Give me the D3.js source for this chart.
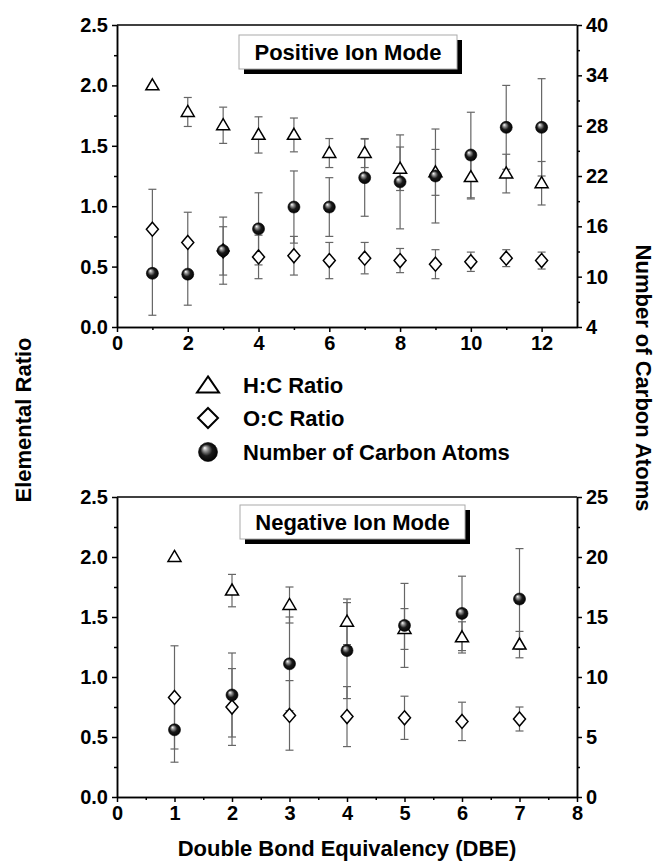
<!DOCTYPE html>
<html lang="en">

<head>
    <meta charset="UTF-8">
    <script src="https://d3js.org/d3.v7.min.js"></script>
    <title>Elemental ratio vs DBE</title>
    <style>
        body { margin: 0; background: #fff; }
        text { font-family: "Liberation Sans", Arial, sans-serif; font-weight: bold; fill: #000; }
    </style>
</head>

<body>
    <svg id="mainsvg" width="660" height="868"></svg>

    <script>
        // ---- data ----
        const dbeTop = [1, 2, 3, 4, 5, 6, 7, 8, 9, 10, 11, 12]
        const hcTop = [2.00, 1.78, 1.67, 1.59, 1.59, 1.44, 1.44, 1.31, 1.28, 1.24, 1.27, 1.19]
        const hcTopErr = [0, 0.12, 0.15, 0.15, 0.14, 0.12, 0.12, 0.18, 0.19, 0.18, 0.16, 0.18]
        const ocTop = [0.81, 0.70, 0.63, 0.58, 0.59, 0.55, 0.57, 0.55, 0.52, 0.54, 0.57, 0.55]
        const ocTopErr = [0.33, 0.25, 0.20, 0.18, 0.16, 0.15, 0.13, 0.10, 0.12, 0.08, 0.07, 0.07]
        const cTop = [10.4, 10.3, 13.1, 15.7, 18.3, 18.3, 21.8, 21.3, 22.0, 24.5, 27.8, 27.8]
        const cTopErr = [5.0, 3.7, 4.0, 4.3, 4.3, 3.5, 4.6, 5.6, 5.6, 5.1, 5.0, 5.8]

        const dbeBot = [1, 2, 3, 4, 5, 6, 7]
        const hcBot = [2.00, 1.72, 1.60, 1.46, 1.40, 1.33, 1.27]
        const hcBotErr = [0, 0.135, 0.15, 0.19, 0.17, 0.13, 0.11]
        const ocBot = [0.83, 0.75, 0.68, 0.67, 0.66, 0.63, 0.65]
        const ocBotErr = [0.43, 0.32, 0.29, 0.25, 0.18, 0.16, 0.10]
        const cBot = [5.6, 8.5, 11.1, 12.2, 14.3, 15.3, 16.5]
        const cBotErr = [2.7, 3.5, 3.9, 4.0, 3.5, 3.1, 4.2]

        // tick labels
        const ratioTicks = [0, 0.5, 1.0, 1.5, 2.0, 2.5]
        const topXTicks = [0, 2, 4, 6, 8, 10, 12]
        const topCTicks = [4, 10, 16, 22, 28, 34, 40]
        const botXTicks = [0, 1, 2, 3, 4, 5, 6, 7, 8]
        const botCTicks = [0, 5, 10, 15, 20, 25]

        const svg = d3.select('#mainsvg')

        // sphere gradient
        const grad = svg.append('defs').append('radialGradient')
            .attr('id', 'ball').attr('cx', '50%').attr('cy', '50%').attr('r', '55%')
            .attr('fx', '32%').attr('fy', '28%')
        grad.append('stop').attr('offset', '0%').attr('stop-color', '#fff')
        grad.append('stop').attr('offset', '22%').attr('stop-color', '#9a9a9a')
        grad.append('stop').attr('offset', '55%').attr('stop-color', '#1a1a1a')
        grad.append('stop').attr('offset', '100%').attr('stop-color', '#000')

        const triPath = (w, h) => `M0,${-h * 0.6}L${w / 2},${h * 0.4}L${-w / 2},${h * 0.4}Z`
        const diaPath = (w, h) => `M0,${-h / 2}L${w / 2},0L0,${h / 2}L${-w / 2},0Z`

        const render = function (p) {
            const x = d3.scaleLinear().domain(p.xDomain).range([117, 577])
            const yL = d3.scaleLinear().domain([0, 2.5]).range([p.bottom, p.top])
            const yR = d3.scaleLinear().domain(p.cDomain).range([p.bottom, p.top])
            const g = svg.append('g')

            // frame top line
            g.append('line').attr('x1', 117).attr('x2', 577).attr('y1', p.top).attr('y2', p.top)
                .attr('stroke', '#000').attr('stroke-width', 1.5)

            const styleAxis = sel => {
                sel.selectAll('path,line').attr('stroke', '#000').attr('stroke-width', 1.5)
                sel.selectAll('text').style('font-size', '20px').attr('font-family', null)
            }
            // left
            g.append('g').attr('transform', 'translate(117,0)')
                .call(d3.axisLeft(yL).tickValues(d3.range(0.25, 2.5, 0.5)).tickSize(3).tickFormat('').tickSizeOuter(0))
                .call(styleAxis)
            g.append('g').attr('transform', 'translate(117,0)')
                .call(d3.axisLeft(yL).tickValues(ratioTicks).tickFormat(d3.format('.1f')).tickSize(5).tickPadding(4).tickSizeOuter(0))
                .call(styleAxis)
            // right
            g.append('g').attr('transform', 'translate(577,0)')
                .call(d3.axisRight(yR).tickValues(p.cMinor).tickSize(3).tickFormat('').tickSizeOuter(0))
                .call(styleAxis)
            g.append('g').attr('transform', 'translate(577,0)')
                .call(d3.axisRight(yR).tickValues(p.cTicks).tickSize(5).tickPadding(4).tickSizeOuter(0))
                .call(styleAxis)
            // bottom
            g.append('g').attr('transform', `translate(0,${p.bottom})`)
                .call(d3.axisBottom(x).tickValues(p.xMinor).tickSize(3).tickFormat('').tickSizeOuter(0))
                .call(styleAxis)
            g.append('g').attr('transform', `translate(0,${p.bottom})`)
                .call(d3.axisBottom(x).tickValues(p.xTicks).tickSize(5).tickPadding(4).tickSizeOuter(0))
                .call(styleAxis)

            // error bars
            const bars = []
            p.dbe.forEach((d, i) => {
                bars.push({ x: d, y0: yR(p.c[i] - p.cErr[i]), y1: yR(p.c[i] + p.cErr[i]) })
                bars.push({ x: d, y0: yL(p.oc[i] - p.ocErr[i]), y1: yL(p.oc[i] + p.ocErr[i]) })
                if (p.hcErr[i] > 0) bars.push({ x: d, y0: yL(p.hc[i] - p.hcErr[i]), y1: yL(p.hc[i] + p.hcErr[i]) })
            })
            const eb = g.append('g').attr('stroke', '#666').attr('stroke-width', 1.2)
            bars.forEach(b => {
                const cx = x(b.x)
                eb.append('line').attr('x1', cx).attr('x2', cx).attr('y1', b.y0).attr('y2', b.y1)
                eb.append('line').attr('x1', cx - 4).attr('x2', cx + 4).attr('y1', b.y0).attr('y2', b.y0)
                eb.append('line').attr('x1', cx - 4).attr('x2', cx + 4).attr('y1', b.y1).attr('y2', b.y1)
            })

            // markers
            g.append('g').selectAll('path').data(p.dbe).enter().append('path')
                .attr('d', triPath(13, 11))
                .attr('transform', (d, i) => `translate(${x(d)},${yL(p.hc[i])})`)
                .attr('fill', '#fff').attr('stroke', '#000').attr('stroke-width', 1.5)
            g.append('g').selectAll('path').data(p.dbe).enter().append('path')
                .attr('d', diaPath(12, 14))
                .attr('transform', (d, i) => `translate(${x(d)},${yL(p.oc[i])})`)
                .attr('fill', '#fff').attr('stroke', '#000').attr('stroke-width', 1.5)
            g.append('g').selectAll('circle').data(p.dbe).enter().append('circle')
                .attr('cx', d => x(d)).attr('cy', (d, i) => yR(p.c[i])).attr('r', 6)
                .attr('fill', 'url(#ball)').attr('stroke', '#000').attr('stroke-width', 0.6)

            // mode label box
            const b = p.box
            g.append('rect').attr('x', b.x + 5).attr('y', b.y + 5).attr('width', b.w).attr('height', b.h).attr('fill', '#000')
            g.append('rect').attr('x', b.x).attr('y', b.y).attr('width', b.w).attr('height', b.h)
                .attr('fill', '#fff').attr('stroke', '#aaa').attr('stroke-width', 1)
            g.append('text').attr('x', b.x + b.w / 2).attr('y', b.y + b.h / 2 + 8)
                .attr('text-anchor', 'middle').style('font-size', '22px').text(p.label)
        }

        render({
            top: 25, bottom: 327, xDomain: [0, 13], cDomain: [4, 40],
            xTicks: topXTicks, xMinor: d3.range(1, 13, 2),
            cTicks: topCTicks, cMinor: d3.range(7, 40, 6),
            dbe: dbeTop, hc: hcTop, hcErr: hcTopErr, oc: ocTop, ocErr: ocTopErr, c: cTop, cErr: cTopErr,
            box: { x: 239, y: 35, w: 218, h: 34 }, label: 'Positive Ion Mode'
        })
        render({
            top: 497, bottom: 797, xDomain: [0, 8], cDomain: [0, 25],
            xTicks: botXTicks, xMinor: d3.range(0.5, 8, 1),
            cTicks: botCTicks, cMinor: d3.range(2.5, 25, 5),
            dbe: dbeBot, hc: hcBot, hcErr: hcBotErr, oc: ocBot, ocErr: ocBotErr, c: cBot, cErr: cBotErr,
            box: { x: 240, y: 505, w: 225, h: 34 }, label: 'Negative Ion Mode'
        })

        // legend
        const legend = svg.append('g')
        legend.append('path').attr('d', triPath(22, 16)).attr('transform', 'translate(208,386)')
            .attr('fill', '#fff').attr('stroke', '#000').attr('stroke-width', 2)
        legend.append('path').attr('d', diaPath(20, 20)).attr('transform', 'translate(208,418)')
            .attr('fill', '#fff').attr('stroke', '#000').attr('stroke-width', 2)
        legend.append('circle').attr('cx', 208).attr('cy', 452).attr('r', 9.5)
            .attr('fill', 'url(#ball)').attr('stroke', '#000').attr('stroke-width', 0.6)
        const legendText = ['H:C Ratio', 'O:C Ratio', 'Number of Carbon Atoms']
        legend.selectAll('text').data(legendText).enter().append('text')
            .attr('x', 243).attr('y', (d, i) => [385, 418, 452][i] + 8)
            .style('font-size', '22px').text(d => d)

        // axis titles
        svg.append('text').attr('transform', 'translate(31,420) rotate(-90)')
            .attr('text-anchor', 'middle').style('font-size', '22px').text('Elemental Ratio')
        svg.append('text').attr('transform', 'translate(636,378) rotate(90)')
            .attr('text-anchor', 'middle').style('font-size', '22px').text('Number of Carbon Atoms')
        svg.append('text').attr('x', 347).attr('y', 856)
            .attr('text-anchor', 'middle').style('font-size', '22px').text('Double Bond Equivalency (DBE)')
    </script>
</body>

</html>
